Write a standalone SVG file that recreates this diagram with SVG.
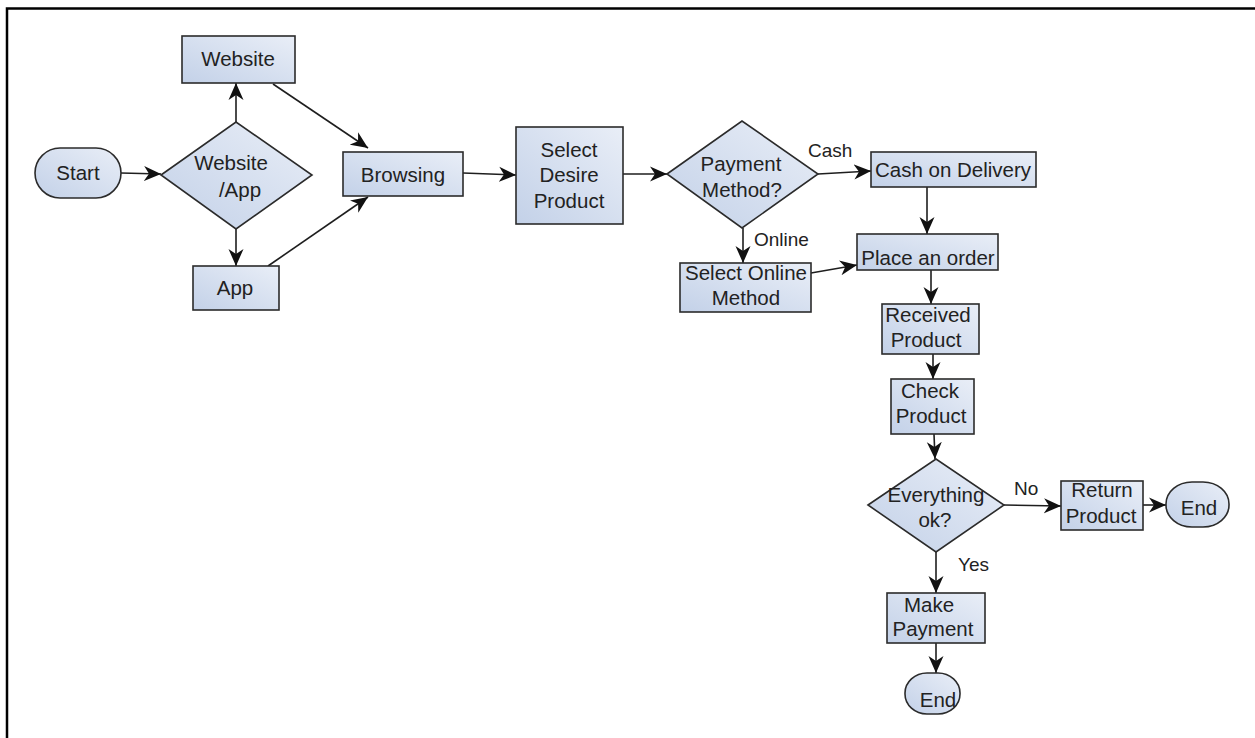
<svg xmlns="http://www.w3.org/2000/svg" width="1255" height="738" viewBox="0 0 1255 738">
<style>
.n{fill:url(#g);stroke:#2b2b2b;stroke-width:1.6}
.t{font-family:"Liberation Sans",Arial,sans-serif;font-size:20.5px;fill:#222;text-anchor:middle}
.l{font-family:"Liberation Sans",Arial,sans-serif;font-size:19px;fill:#222}
.c{fill:none;stroke:#1e1e1e;stroke-width:1.6;marker-end:url(#a)}
</style>
<defs>
<linearGradient id="g" x1="0" y1="1" x2="1" y2="0">
<stop offset="0" stop-color="#c3d1e8"/>
<stop offset="1" stop-color="#e9eef7"/>
</linearGradient>
<marker id="a" markerUnits="userSpaceOnUse" markerWidth="18" markerHeight="16" refX="17" refY="8" orient="auto">
<path d="M0,0.5 L17,8 L0,15.5 L5,8 z" fill="#111"/>
</marker>
</defs>
<rect width="1255" height="738" fill="#fff"/>
<path d="M7,738 V8.5 H1255" fill="none" stroke="#000" stroke-width="2.5"/>
<g id="connectors">
<path class="c" d="M121,173 L161,174"/>
<path class="c" d="M236,122 L236,83"/>
<path class="c" d="M236,229 L236,266"/>
<path class="c" d="M273,84 L368,148"/>
<path class="c" d="M268,266 L368,197"/>
<path class="c" d="M463,173 L516,175"/>
<path class="c" d="M623,174 L667,174"/>
<path class="c" d="M818,174 L871,171"/>
<path class="c" d="M743,228 L743,263"/>
<path class="c" d="M811,273 L857,265"/>
<path class="c" d="M927,187 L927,234"/>
<path class="c" d="M931,270 L931,304"/>
<path class="c" d="M933,354 L933,379"/>
<path class="c" d="M934,434 L935,459"/>
<path class="c" d="M1004,505 L1061,506"/>
<path class="c" d="M1143,505 L1166,505"/>
<path class="c" d="M936,552 L936,593"/>
<path class="c" d="M936,643 L936,673"/>
</g>
<g id="start"><rect class="n" x="35" y="148" width="86" height="50" rx="25"/><text class="t" x="78" y="180">Start</text></g>
<g id="website-app"><polygon class="n" points="161,175 236,122 312,175 236,229"/><text class="t" x="231" y="170">Website</text><text class="t" x="240" y="197">/App</text></g>
<g id="website"><rect class="n" x="182" y="36" width="113" height="47"/><text class="t" x="238" y="66">Website</text></g>
<g id="app"><rect class="n" x="193" y="266" width="86" height="44"/><text class="t" x="235" y="295">App</text></g>
<g id="browsing"><rect class="n" x="343" y="152" width="120" height="44"/><text class="t" x="403" y="182">Browsing</text></g>
<g id="select-desire"><rect class="n" x="516" y="127" width="107" height="97"/><text class="t" x="569" y="157">Select</text><text class="t" x="569" y="182">Desire</text><text class="t" x="569" y="208">Product</text></g>
<g id="payment-method"><polygon class="n" points="667,174 742,121 818,174 742,228"/><text class="t" x="741" y="171">Payment</text><text class="t" x="742" y="197">Method?</text></g>
<text class="l" x="808" y="157">Cash</text>
<text class="l" x="754" y="246">Online</text>
<g id="cash-on-delivery"><rect class="n" x="871" y="152" width="165" height="35"/><text class="t" x="953" y="177">Cash on Delivery</text></g>
<g id="select-online"><rect class="n" x="680" y="263" width="131" height="49"/><text class="t" x="746" y="280">Select Online</text><text class="t" x="746" y="305">Method</text></g>
<g id="place-order"><rect class="n" x="857" y="234" width="141" height="36"/><text class="t" x="928" y="265">Place an order</text></g>
<g id="received"><rect class="n" x="882" y="304" width="97" height="50"/><text class="t" x="928" y="322">Received</text><text class="t" x="926" y="347">Product</text></g>
<g id="check"><rect class="n" x="891" y="379" width="83" height="55"/><text class="t" x="930" y="398">Check</text><text class="t" x="931" y="423">Product</text></g>
<g id="everything-ok"><polygon class="n" points="868,505 936,459 1004,505 936,552"/><text class="t" x="936" y="502">Everything</text><text class="t" x="935" y="527">ok?</text></g>
<text class="l" x="1014" y="495">No</text>
<text class="l" x="958" y="571">Yes</text>
<g id="return"><rect class="n" x="1061" y="481" width="82" height="49"/><text class="t" x="1102" y="497">Return</text><text class="t" x="1101" y="523">Product</text></g>
<g id="end-right"><rect class="n" x="1166" y="482" width="63" height="45" rx="26" ry="22"/><text class="t" x="1199" y="515">End</text></g>
<g id="make-payment"><rect class="n" x="887" y="593" width="98" height="50"/><text class="t" x="929" y="612">Make</text><text class="t" x="933" y="636">Payment</text></g>
<g id="end-bottom"><rect class="n" x="905" y="673" width="55" height="41" rx="22" ry="20"/><text class="t" x="938" y="707">End</text></g>
</svg>
